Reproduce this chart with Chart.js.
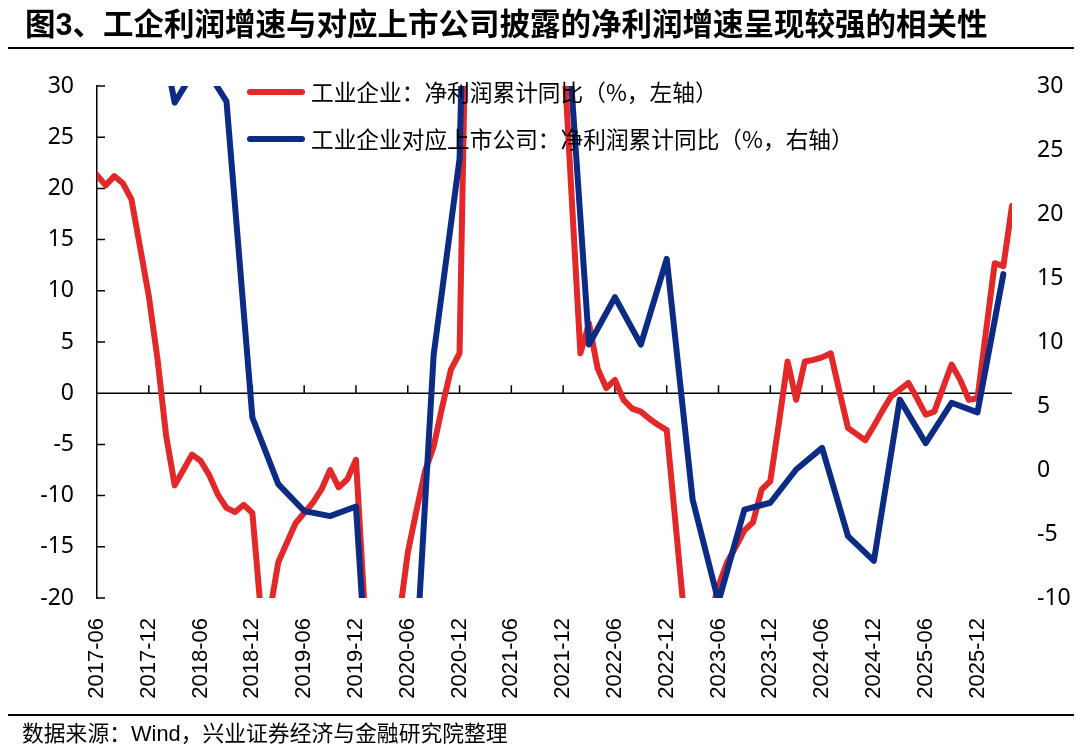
<!DOCTYPE html>
<html>
<head>
<meta charset="utf-8">
<script src="https://cdn.jsdelivr.net/npm/chart.js@4.4.1/dist/chart.umd.min.js"></script>
<style>
  body { margin: 0; background: #fff; }
  #wrap { position: relative; width: 1080px; height: 751px; overflow: hidden; font-family: "Noto Sans CJK SC", sans-serif; color: #000; }
  #chart { position: absolute; left: 0; top: 0; }
  .title { position: absolute; left: 25px; top: 2px; font-size: 30.5px; font-weight: bold; line-height: 40px; white-space: nowrap; }
  .latin { font-family: "Liberation Sans", Arial, sans-serif; }
  .rule { position: absolute; left: 8px; right: 6px; height: 2px; background: #000; }
  .legend-item { position: absolute; left: 311px; font-size: 22.7px; line-height: 30px; white-space: nowrap; }
  .swatch { position: absolute; left: 247px; width: 58px; height: 6px; border-radius: 3px; }
  .source { position: absolute; left: 22px; top: 717px; font-size: 21.8px; line-height: 30px; white-space: nowrap; }
</style>
</head>
<body>
<div id="wrap">
  <canvas id="chart" width="1080" height="751"></canvas>
  <div class="title">图<span class="latin">3</span>、工企利润增速与对应上市公司披露的净利润增速呈现较强的相关性</div>
  <div class="rule" style="top:47px"></div>
  <div class="swatch" style="top:89px;background:#E3282A"></div>
  <div class="legend-item" style="top:77px">工业企业：净利润累计同比（%，左轴）</div>
  <div class="swatch" style="top:136px;background:#0B2B84"></div>
  <div class="legend-item" style="top:124px">工业企业对应上市公司：净利润累计同比（%，右轴）</div>
  <div class="rule" style="top:714px"></div>
  <div class="source">数据来源：<span class="latin">Wind</span>，兴业证券经济与金融研究院整理</div>
</div>
<script>
// 工业企业：净利润累计同比（%），月度，2017-06 起
const industrialProfit = [
  21.3, 20.3, 21.2, 20.5, 18.9, 14.2, 9.5,
  3.4, -4.1, -9.0, -7.5, -6.0, -6.6, -8.0, -9.9, -11.2, -11.6, -10.9, -11.7,
  -21.5, -21.5, -16.5, -14.6, -12.7, -11.7, -10.7, -9.4, -7.5, -9.2, -8.4, -6.5,
  -21, -38, -36, -27, -22, -15.6, -11.5, -7.6, -5.2, -1.3, 2.3, 3.9,
  50, 170, 130, 100, 80, 65, 56, 48, 44, 41, 37, 34.3,
  19, 3.9, 6.8, 2.4, 0.5, 1.3, -0.65, -1.5, -1.8, -2.5, -3.1, -3.6,
  -12.5, -21.5, -22.5, -22, -22, -18.8, -16.5, -15, -13.4, -12.6, -9.4, -8.6,
  -2.9, 3.1, -0.65, 3.1, 3.25, 3.5, 3.9, 0.2, -3.4, -4.0, -4.6, -3.2,
  -1.7, -0.3, 0.35, 1.0, -0.5, -2.1, -1.8, 0.5, 2.8, 1.3, -0.65, -0.5,
  6.1, 12.7, 12.4, 18.3
]

// 工业企业对应上市公司：净利润累计同比（%），季度，2017-06 起
const listedProfit = [
  45, 42, 39, 28.7, 32, 28.8, 4.1,
  -1.1, -3.2, -3.6, -2.85,
  -34.4, -26, 9, 24.3,
  110, 75, 55, 39.5,
  9.8, 13.5, 9.8, 16.5,
  -2.3, -10.3, -3.1, -2.56,
  0.04, 1.73, -5.17, -7.1,
  5.5, 2.1, 5.25, 4.5,
  15.3
]

const xTickLabels = ['2017-06', '2017-12', '2018-06', '2018-12', '2019-06', '2019-12', '2020-06', '2020-12',
  '2021-06', '2021-12', '2022-06', '2022-12', '2023-06', '2023-12', '2024-06', '2024-12', '2025-06', '2025-12']

const months = []
for (let i = 0; i < industrialProfit.length; i++) {
  const total = 2017 * 12 + 5 + i
  months.push(Math.floor(total / 12) + '-' + String(total % 12 + 1).padStart(2, '0'))
}

const listedMonthly = months.map(() => null)
listedProfit.forEach((v, q) => { listedMonthly[q * 3] = v })

// zero line with ticks, inward ticks on left axis
const axisMarks = {
  id: 'axisMarks',
  beforeDatasetsDraw(chart) {
    const { ctx, chartArea, scales } = chart
    const zeroY = scales.y.getPixelForValue(0)
    ctx.save()
    ctx.strokeStyle = '#000'
    ctx.lineWidth = 1.5
    ctx.beginPath()
    ctx.moveTo(chartArea.left, zeroY)
    ctx.lineTo(chartArea.right, zeroY)
    months.forEach((label, index) => {
      if (index > 0 && xTickLabels.includes(label)) {
        const x = scales.x.getPixelForValue(index)
        ctx.moveTo(x, zeroY)
        ctx.lineTo(x, zeroY - 8)
      }
    })
    scales.y.ticks.forEach(tick => {
      const y = scales.y.getPixelForValue(tick.value)
      ctx.moveTo(chartArea.left, y)
      ctx.lineTo(chartArea.left + 8, y)
    })
    ctx.stroke()
    ctx.restore()
  }
}

Chart.defaults.color = '#000'

new Chart(document.getElementById('chart'), {
  type: 'line',
  data: {
    labels: months,
    datasets: [{
      label: '工业企业：净利润累计同比（%，左轴）',
      data: industrialProfit,
      yAxisID: 'y',
      borderColor: '#E3282A',
      borderWidth: 6,
      pointRadius: 0,
      tension: 0,
      borderJoinStyle: 'round',
      borderCapStyle: 'round',
      clip: 0,
      order: 1
    }, {
      label: '工业企业对应上市公司：净利润累计同比（%，右轴）',
      data: listedMonthly,
      yAxisID: 'y1',
      borderColor: '#0B2B84',
      borderWidth: 6,
      pointRadius: 0,
      tension: 0,
      spanGaps: true,
      borderJoinStyle: 'round',
      borderCapStyle: 'round',
      clip: 0,
      order: 0
    }]
  },
  options: {
    responsive: false,
    animation: false,
    devicePixelRatio: 1,
    layout: { padding: { top: 86, left: 0, right: 0, bottom: 0 } },
    plugins: { legend: { display: false }, tooltip: { enabled: false } },
    scales: {
      x: {
        grid: { display: false, drawTicks: false },
        border: { display: false },
        afterFit: scale => { scale.height = 153 },
        ticks: {
          autoSkip: false,
          maxRotation: 90,
          minRotation: 90,
          padding: 20,
          font: { family: '"Liberation Sans", Arial, sans-serif', size: 22 },
          callback: (value, index) => xTickLabels.includes(months[index]) ? months[index] : null
        }
      },
      y: {
        position: 'left',
        min: -20,
        max: 30,
        grid: { display: false, drawTicks: false },
        border: { display: true, color: '#000', width: 1.5 },
        afterFit: scale => { scale.width = 97 },
        ticks: { stepSize: 5, padding: 23, font: { family: '"Noto Sans", sans-serif', size: 23 } }
      },
      y1: {
        position: 'right',
        min: -10,
        max: 30,
        grid: { display: false, drawTicks: false },
        border: { display: false },
        afterFit: scale => { scale.width = 68 },
        ticks: { stepSize: 5, padding: 25, font: { family: '"Noto Sans", sans-serif', size: 23 } }
      }
    }
  },
  plugins: [axisMarks]
})
</script>
</body>
</html>
